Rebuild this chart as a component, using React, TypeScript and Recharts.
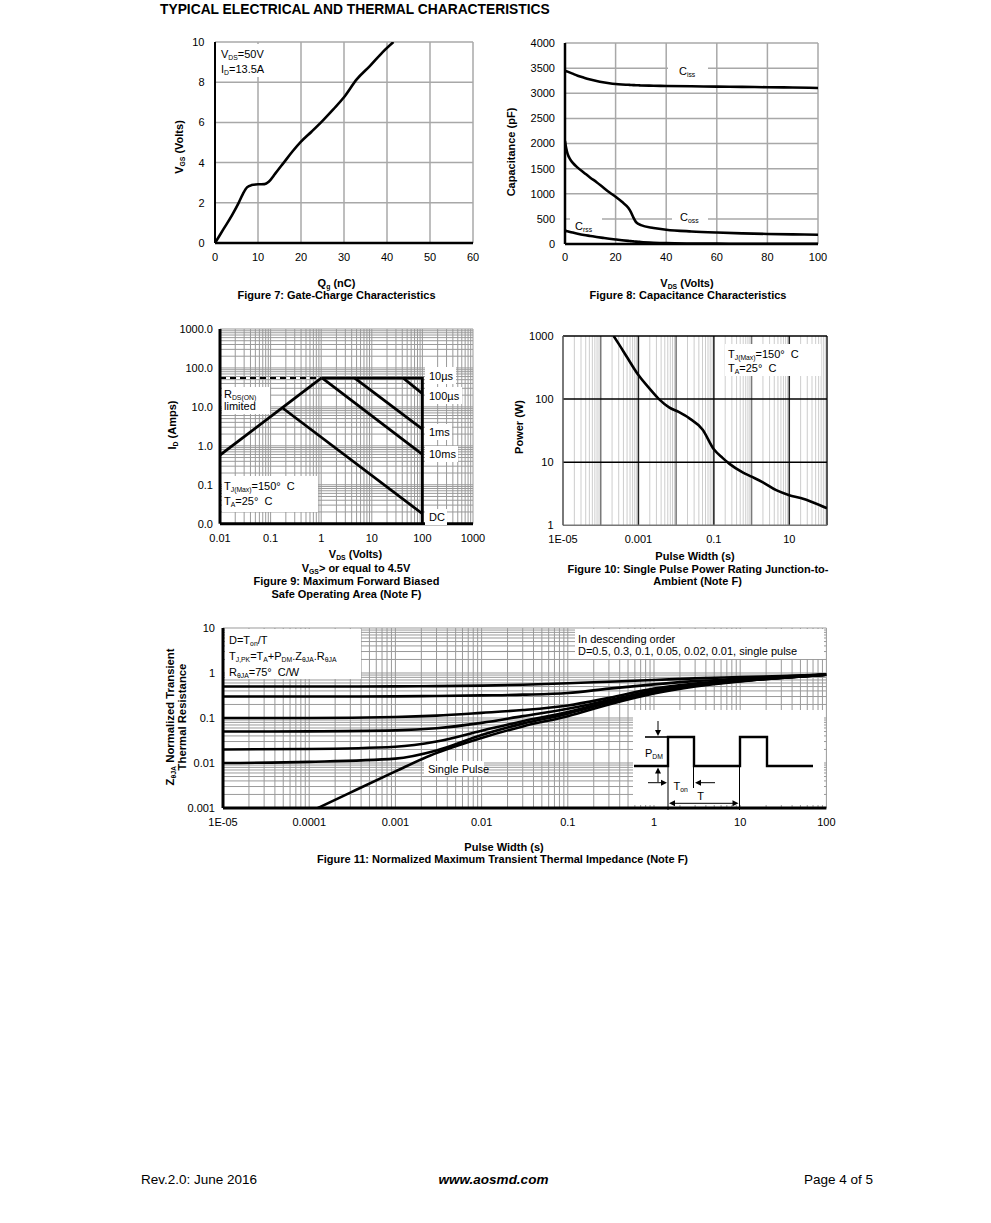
import React from 'react';
import { LineChart, Line, XAxis, YAxis, CartesianGrid, ReferenceLine } from 'recharts';

const FONT = "'Liberation Sans', Arial, Helvetica, sans-serif";

// ---------------- Figure 7: Gate charge ----------------
const fig7Qg = [0, 2, 4, 5.5, 6.5, 7.5, 8.5, 10, 11.5, 12.5, 14, 16, 18, 20, 22.5, 25, 27.5, 30, 33, 36, 39, 41.5];
const fig7Vgs = [0, 0.7, 1.4, 2.0, 2.45, 2.78, 2.88, 2.92, 2.93, 3.05, 3.45, 4.0, 4.55, 5.04, 5.55, 6.08, 6.65, 7.25, 8.15, 8.8, 9.5, 10.0];
const fig7XTicks = [0, 10, 20, 30, 40, 50, 60];
const fig7YTicks = [0, 2, 4, 6, 8, 10];

// ---------------- Figure 8: Capacitance ----------------
const fig8Vds = [0, 0.5, 1, 2, 3, 5, 7.5, 10, 12.5, 15, 17.5, 20, 22.5, 25, 26, 27, 28, 29, 30, 35, 40, 50, 60, 70, 80, 90, 100];
const fig8Ciss = [3450, 3440, 3430, 3410, 3390, 3350, 3310, 3275, 3245, 3220, 3200, 3185, 3175, 3168, 3165, 3162, 3160, 3158, 3155, 3150, 3145, 3138, 3132, 3126, 3120, 3114, 3105];
const fig8Coss = [2050, 1900, 1800, 1690, 1620, 1520, 1420, 1320, 1230, 1130, 1030, 940, 840, 720, 640, 530, 440, 400, 375, 320, 285, 250, 228, 212, 200, 192, 185];
const fig8Crss = [270, 260, 252, 240, 228, 205, 180, 160, 140, 122, 105, 90, 76, 63, 58, 53, 48, 44, 40, 26, 17, 10, 7, 5, 4, 3, 3];
const fig8XTicks = [0, 20, 40, 60, 80, 100];
const fig8YTicks = [0, 500, 1000, 1500, 2000, 2500, 3000, 3500, 4000];

// ---------------- Figure 9: SOA ----------------
const fig9XMajor = [0.01, 0.1, 1, 10, 100, 1000];
const fig9XLabels = ['0.01', '0.1', '1', '10', '100', '1000'];
const fig9YMajor = [0.01, 0.1, 1, 10, 100, 1000];
const fig9YLabels = ['0.0', '0.1', '1.0', '10.0', '100.0', '1000.0'];
const soaRdsV = [0.01, 1];
const soaRdsI = [0.58, 55];
const soaDashV = [0.01, 1];
const soaDashI = [55, 55];
const soa10usV = [1, 100, 100];
const soa10usI = [55, 55, 0.01];
const soa100usV = [42, 100];
const soa100usI = [55, 22];
const soa1msV = [4.6, 100];
const soa1msI = [55, 2.7];
const soa10msV = [1.05, 100];
const soa10msI = [55, 0.6];
const soaDcV = [0.17, 100];
const soaDcI = [9.5, 0.018];

// ---------------- Figure 10: Single pulse power ----------------
const fig10T = [2.2e-4, 3e-4, 5e-4, 1e-3, 2e-3, 3.5e-3, 6.5e-3, 0.012, 0.022, 0.05, 0.1, 0.17, 0.26, 0.58, 1, 2, 4.5, 10, 20, 43, 100];
const fig10P = [1000, 750, 460, 240, 145, 100, 74, 62, 50, 33, 16, 11.7, 9.4, 6.9, 5.9, 4.8, 3.6, 3.0, 2.7, 2.3, 1.86];
const fig10XMajor = [1e-5, 1e-3, 0.1, 10];
const fig10XLabels = ['1E-05', '0.001', '0.1', '10'];
const fig10YTicks = [1, 10, 100, 1000];

// ---------------- Figure 11: Transient thermal impedance ----------------
const fig11T = [1e-5, 1e-4, 1e-3, 3e-3, 1e-2, 3e-2, 0.1, 0.3, 1, 3, 10, 30, 100];
const fig11D50 = [0.5, 0.5, 0.505, 0.51, 0.525, 0.55, 0.59, 0.64, 0.7, 0.76, 0.81, 0.86, 0.92];
const fig11D30 = [0.3, 0.3, 0.303, 0.308, 0.318, 0.33, 0.36, 0.45, 0.56, 0.66, 0.74, 0.83, 0.92];
const fig11D10 = [0.1, 0.1, 0.105, 0.113, 0.13, 0.15, 0.19, 0.28, 0.45, 0.58, 0.7, 0.8, 0.92];
const fig11D05 = [0.05, 0.0505, 0.053, 0.059, 0.078, 0.11, 0.16, 0.25, 0.41, 0.55, 0.68, 0.79, 0.92];
const fig11D02 = [0.02, 0.0205, 0.023, 0.03, 0.052, 0.085, 0.135, 0.23, 0.38, 0.53, 0.67, 0.79, 0.92];
const fig11D01 = [0.01, 0.0106, 0.0125, 0.019, 0.042, 0.075, 0.125, 0.22, 0.37, 0.52, 0.66, 0.78, 0.92];
const fig11SpT = [1.26e-4, 3e-4, 1e-3, 2.5e-3, 1e-2, 3e-2, 0.1, 0.3, 1, 3, 10, 30, 100];
const fig11Sp = [0.001, 0.0022, 0.0065, 0.0145, 0.036, 0.065, 0.11, 0.2, 0.35, 0.5, 0.65, 0.78, 0.92];
const fig11XMajor = [1e-5, 1e-4, 1e-3, 1e-2, 0.1, 1, 10, 100];
const fig11XLabels = ['1E-05', '0.0001', '0.001', '0.01', '0.1', '1', '10', '100'];
const fig11YMajor = [0.001, 0.01, 0.1, 1, 10];
const fig11YLabels = ['0.001', '0.01', '0.1', '1', '10'];

// ---------------- helpers ----------------
const YW = 60, MT = 8, MR = 26, XH = 34;
const MARGIN = { top: MT, right: MR, bottom: 0, left: 0 };
const TICK = { fontSize: 11, fill: '#000', fontFamily: FONT };

function geom(x0: number, y0: number, x1: number, y1: number) {
  return { left: x0 - YW, top: y0 - MT, width: x1 - x0 + YW + MR, height: y1 - y0 + MT + XH };
}

function logTicks(lo: number, hi: number) {
  const out: number[] = [];
  for (let e = lo; e < hi; e++) for (let m = 1; m < 10; m++) out.push(m * Math.pow(10, e));
  out.push(Math.pow(10, hi));
  return out;
}

function labelOf(v: number, majors: number[], labels: string[]) {
  for (let i = 0; i < majors.length; i++) {
    if (Math.abs(Math.log10(v) - Math.log10(majors[i])) < 1e-6) return labels[i];
  }
  return '';
}

function pairs(xs: number[], ys: number[], kx: string, ky: string) {
  return xs.map((x, i) => ({ [kx]: x, [ky]: ys[i] }));
}

const Sub = ({ children }: any) => (
  <span style={{ fontSize: '0.62em', position: 'relative', top: '0.32em' }}>{children}</span>
);

function Tx({ x, y, children, size = 11, bold = false, italic = false, align = 'left' }: any) {
  const tx = align === 'center' ? '-50%' : align === 'right' ? '-100%' : '0';
  return (
    <div
      style={{
        position: 'absolute', left: x, top: y, transform: `translate(${tx}, -50%)`,
        fontSize: size, fontWeight: bold ? 700 : 400, fontStyle: italic ? 'italic' : 'normal',
        lineHeight: 1, whiteSpace: 'nowrap', color: '#000',
      }}
    >
      {children}
    </div>
  );
}

function VTx({ x, y, children, size = 11 }: any) {
  return (
    <div
      style={{
        position: 'absolute', left: x, top: y, transform: 'translate(-50%, -50%) rotate(-90deg)',
        fontSize: size, fontWeight: 700, lineHeight: 1, whiteSpace: 'nowrap', color: '#000',
      }}
    >
      {children}
    </div>
  );
}

const Box = ({ x, y, w, h }: any) => (
  <div style={{ position: 'absolute', left: x, top: y, width: w, height: h, background: '#fff' }} />
);

const Wrap = ({ g, children }: any) => (
  <div style={{ position: 'absolute', left: g.left, top: g.top }}>{children}</div>
);

// ---------------- Figures ----------------
function Fig7() {
  const g = geom(215, 42, 473, 243);
  const data = pairs(fig7Qg, fig7Vgs, 'q', 'v');
  return (
    <>
      <Wrap g={g}>
        <LineChart width={g.width} height={g.height} data={data} margin={MARGIN}>
          <CartesianGrid stroke="#a8a8a8" strokeWidth={1.5} />
          <Line dataKey="v" type="monotone" stroke="#000" strokeWidth={2.6} dot={false} isAnimationActive={false} />
          <XAxis dataKey="q" type="number" domain={[0, 60]} ticks={fig7XTicks} interval={0} tickSize={0} tickMargin={10} tick={TICK} axisLine={{ stroke: '#000', strokeWidth: 2.5 }} height={XH} allowDataOverflow />
          <YAxis type="number" domain={[0, 10]} ticks={fig7YTicks} interval={0} tickSize={0} tickMargin={10.5} tick={TICK} axisLine={{ stroke: '#000', strokeWidth: 2 }} width={YW} allowDataOverflow />
        </LineChart>
      </Wrap>
      <Box x={216.5} y={43.5} w={50} h={33} />
      <Tx x={221} y={54}>V<Sub>DS</Sub>=50V</Tx>
      <Tx x={221} y={68.5}>I<Sub>D</Sub>=13.5A</Tx>
      <VTx x={179} y={147}>V<Sub>GS</Sub> (Volts)</VTx>
      <Tx x={336.5} y={282.5} bold align="center">Q<Sub>g</Sub> (nC)</Tx>
      <Tx x={336.5} y={294.5} bold align="center">Figure 7: Gate-Charge Characteristics</Tx>
    </>
  );
}

function Fig8() {
  const g = geom(565, 43, 818, 244);
  const data = fig8Vds.map((v, i) => ({ v, ciss: fig8Ciss[i], coss: fig8Coss[i], crss: fig8Crss[i] }));
  return (
    <>
      <Wrap g={g}>
        <LineChart width={g.width} height={g.height} data={data} margin={MARGIN}>
          <CartesianGrid stroke="#a8a8a8" strokeWidth={1.5} />
          <Line dataKey="ciss" type="monotone" stroke="#000" strokeWidth={2.6} dot={false} isAnimationActive={false} />
          <Line dataKey="coss" type="monotone" stroke="#000" strokeWidth={2.6} dot={false} isAnimationActive={false} />
          <Line dataKey="crss" type="monotone" stroke="#000" strokeWidth={2.6} dot={false} isAnimationActive={false} />
          <XAxis dataKey="v" type="number" domain={[0, 100]} ticks={fig8XTicks} interval={0} tickSize={0} tickMargin={9.5} tick={TICK} axisLine={{ stroke: '#000', strokeWidth: 2.5 }} height={XH} allowDataOverflow />
          <YAxis type="number" domain={[0, 4000]} ticks={fig8YTicks} interval={0} tickSize={0} tickMargin={10} tick={TICK} axisLine={{ stroke: '#000', strokeWidth: 2.5 }} width={YW} allowDataOverflow />
        </LineChart>
      </Wrap>
      <Box x={668} y={62} w={40} h={17} />
      <Tx x={679} y={71}>C<Sub>iss</Sub></Tx>
      <Box x={672} y={209} w={36} h={17} />
      <Tx x={680} y={217}>C<Sub>oss</Sub></Tx>
      <Box x={570} y={217} w={32} h={12} />
      <Tx x={575} y={225.5}>C<Sub>rss</Sub></Tx>
      <VTx x={511} y={152}>Capacitance (pF)</VTx>
      <Tx x={687} y={282.5} bold align="center">V<Sub>DS</Sub> (Volts)</Tx>
      <Tx x={688} y={294.5} bold align="center">Figure 8: Capacitance Characteristics</Tx>
    </>
  );
}

function Fig9() {
  const g = geom(220, 329.3, 473, 524);
  const xt = logTicks(-2, 3);
  const yt = logTicks(-2, 3);
  const L = (xs: number[], ys: number[], k: string, dash?: string) => (
    <Line key={k} data={pairs(xs, ys, 'v', 'i')} dataKey="i" type="linear" stroke="#000" strokeWidth={dash ? 2 : 2.8} strokeDasharray={dash} dot={false} isAnimationActive={false} />
  );
  return (
    <>
      <Wrap g={g}>
        <LineChart width={g.width} height={g.height} margin={MARGIN}>
          <CartesianGrid stroke="#9a9a9a" strokeWidth={1} />
          {L(soaDashV, soaDashI, 'dash', '6 4')}
          {L(soaRdsV, soaRdsI, 'rds')}
          {L(soa10usV, soa10usI, '10us')}
          {L(soa100usV, soa100usI, '100us')}
          {L(soa1msV, soa1msI, '1ms')}
          {L(soa10msV, soa10msI, '10ms')}
          {L(soaDcV, soaDcI, 'dc')}
          <XAxis dataKey="v" type="number" scale="log" domain={[0.01, 1000]} ticks={xt} interval={0} tickSize={0} tickMargin={11} tick={TICK} tickFormatter={(v: number) => labelOf(v, fig9XMajor, fig9XLabels)} axisLine={{ stroke: '#000', strokeWidth: 3 }} height={XH} allowDataOverflow />
          <YAxis type="number" scale="log" domain={[0.01, 1000]} ticks={yt} interval={0} tickSize={0} tickMargin={7} tick={TICK} tickFormatter={(v: number) => labelOf(v, fig9YMajor, fig9YLabels)} axisLine={{ stroke: '#000', strokeWidth: 3 }} width={YW} allowDataOverflow />
        </LineChart>
      </Wrap>
      <Box x={425} y={367} w={31} h={17} />
      <Tx x={429} y={376}>10µs</Tx>
      <Box x={425} y={387} w={37} h={17} />
      <Tx x={429} y={395.5}>100µs</Tx>
      <Box x={425} y={424} w={27} h={16} />
      <Tx x={429} y={431.7}>1ms</Tx>
      <Box x={425} y={446} w={33} h={16} />
      <Tx x={429} y={454}>10ms</Tx>
      <Box x={425} y={509} w={22} h={16} />
      <Tx x={429} y={517}>DC</Tx>
      <Box x={221.5} y={387} w={48} h={27} />
      <Tx x={224} y={394}>R<Sub>DS(ON)</Sub></Tx>
      <Tx x={224} y={406}>limited</Tx>
      <Box x={221.5} y={476} w={96} h={36} />
      <Tx x={224} y={485.5}>T<Sub>J(Max)</Sub>=150°&nbsp; C</Tx>
      <Tx x={224} y={501}>T<Sub>A</Sub>=25°&nbsp; C</Tx>
      <VTx x={172} y={425}>I<Sub>D</Sub> (Amps)</VTx>
      <Tx x={355.5} y={553.5} bold align="center">V<Sub>DS</Sub> (Volts)</Tx>
      <Tx x={356} y={568} bold align="center">V<Sub>GS</Sub>&gt; or equal to 4.5V</Tx>
      <Tx x={346.5} y={580.5} bold align="center">Figure 9: Maximum Forward Biased</Tx>
      <Tx x={346.5} y={594} bold align="center">Safe Operating Area (Note F)</Tx>
    </>
  );
}

function Fig10() {
  const g = geom(562.7, 335.7, 826.7, 525);
  const xt = logTicks(-5, 2);
  const data = pairs(fig10T, fig10P, 't', 'p');
  return (
    <>
      <Wrap g={g}>
        <LineChart width={g.width} height={g.height} data={data} margin={MARGIN}>
          <CartesianGrid stroke="#cdcdcd" strokeWidth={1} horizontal={false} />
          <ReferenceLine x={1e-4} stroke="#7a7a7a" strokeWidth={1.5} />
          <ReferenceLine x={1e-2} stroke="#7a7a7a" strokeWidth={1.5} />
          <ReferenceLine x={1} stroke="#7a7a7a" strokeWidth={1.5} />
          <ReferenceLine x={1e-3} stroke="#222" strokeWidth={1.5} />
          <ReferenceLine x={0.1} stroke="#222" strokeWidth={1.5} />
          <ReferenceLine x={10} stroke="#222" strokeWidth={1.5} />
          <ReferenceLine x={100} stroke="#222" strokeWidth={1.5} />
          <ReferenceLine y={10} stroke="#000" strokeWidth={1.5} />
          <ReferenceLine y={100} stroke="#000" strokeWidth={1.5} />
          <ReferenceLine y={1000} stroke="#000" strokeWidth={1.5} />
          <Line dataKey="p" type="monotone" stroke="#000" strokeWidth={2.6} dot={false} isAnimationActive={false} />
          <XAxis dataKey="t" type="number" scale="log" domain={[1e-5, 100]} ticks={xt} interval={0} tickSize={0} tickMargin={10} tick={TICK} tickFormatter={(v: number) => labelOf(v, fig10XMajor, fig10XLabels)} axisLine={{ stroke: '#777', strokeWidth: 1.5 }} height={XH} allowDataOverflow />
          <YAxis type="number" scale="log" domain={[1, 1000]} ticks={fig10YTicks} interval={0} tickSize={0} tickMargin={9.5} tick={TICK} axisLine={{ stroke: '#555', strokeWidth: 1.5 }} width={YW} allowDataOverflow />
        </LineChart>
      </Wrap>
      <Box x={725} y={344} w={96} h={32} />
      <Tx x={728} y={353.5}>T<Sub>J(Max)</Sub>=150°&nbsp; C</Tx>
      <Tx x={728} y={367.5}>T<Sub>A</Sub>=25°&nbsp; C</Tx>
      <VTx x={519} y={427}>Power (W)</VTx>
      <Tx x={695} y={556} bold align="center">Pulse Width (s)</Tx>
      <Tx x={698} y={568.5} bold align="center">Figure 10: Single Pulse Power Rating Junction-to-</Tx>
      <Tx x={697.5} y={581} bold align="center">Ambient (Note F)</Tx>
    </>
  );
}

function Arrow({ x, y, dir }: any) {
  const s = 3, l = 6;
  let pts = '';
  if (dir === 'down') pts = `${x - s},${y - l} ${x + s},${y - l} ${x},${y}`;
  if (dir === 'up') pts = `${x - s},${y + l} ${x + s},${y + l} ${x},${y}`;
  if (dir === 'right') pts = `${x - l},${y - s} ${x - l},${y + s} ${x},${y}`;
  if (dir === 'left') pts = `${x + l},${y - s} ${x + l},${y + s} ${x},${y}`;
  return <polygon points={pts} fill="#000" />;
}

function Fig11() {
  const g = geom(223.3, 627.7, 826.7, 807.7);
  const xt = logTicks(-5, 2);
  const yt = logTicks(-3, 1);
  const L = (xs: number[], ys: number[], k: string) => (
    <Line key={k} data={pairs(xs, ys, 't', 'z')} dataKey="z" type="monotone" stroke="#000" strokeWidth={2.6} dot={false} isAnimationActive={false} />
  );
  return (
    <>
      <Wrap g={g}>
        <LineChart width={g.width} height={g.height} margin={MARGIN}>
          <CartesianGrid stroke="#9a9a9a" strokeWidth={1} />
          {L(fig11T, fig11D50, 'd50')}
          {L(fig11T, fig11D30, 'd30')}
          {L(fig11T, fig11D10, 'd10')}
          {L(fig11T, fig11D05, 'd05')}
          {L(fig11T, fig11D02, 'd02')}
          {L(fig11T, fig11D01, 'd01')}
          {L(fig11SpT, fig11Sp, 'sp')}
          <XAxis dataKey="t" type="number" scale="log" domain={[1e-5, 100]} ticks={xt} interval={0} tickSize={0} tickMargin={10} tick={TICK} tickFormatter={(v: number) => labelOf(v, fig11XMajor, fig11XLabels)} axisLine={{ stroke: '#000', strokeWidth: 3 }} height={XH} allowDataOverflow />
          <YAxis type="number" scale="log" domain={[0.001, 10]} ticks={yt} interval={0} tickSize={0} tickMargin={8} tick={TICK} tickFormatter={(v: number) => labelOf(v, fig11YMajor, fig11YLabels)} axisLine={{ stroke: '#000', strokeWidth: 3 }} width={YW} allowDataOverflow />
        </LineChart>
      </Wrap>
      <Box x={224.8} y={628.5} w={136} h={50} />
      <Tx x={229} y={640}>D=T<Sub>on</Sub>/T</Tx>
      <Tx x={229} y={656}>T<Sub>J,PK</Sub>=T<Sub>A</Sub>+P<Sub>DM</Sub>.Z<Sub>θJA</Sub>.R<Sub>θJA</Sub></Tx>
      <Tx x={229} y={672}>R<Sub>θJA</Sub>=75°&nbsp; C/W</Tx>
      <Box x={575} y={628.5} w={249} h={30} />
      <Tx x={578} y={639}>In descending order</Tx>
      <Tx x={578} y={651}>D=0.5, 0.3, 0.1, 0.05, 0.02, 0.01, single pulse</Tx>
      <Box x={424} y={761} w={60} h={15} />
      <Tx x={428} y={768.5}>Single Pulse</Tx>
      <svg width={991} height={1223} style={{ position: 'absolute', left: 0, top: 0, pointerEvents: 'none' }}>
        <rect x={633} y={710} width={191} height={95} fill="#fff" />
        <path d="M634,766 H668 V737 H694 V766 H740 V737 H767 V766 H813" fill="none" stroke="#000" strokeWidth={2.4} />
        <line x1={645} y1={737} x2={668} y2={737} stroke="#000" strokeWidth={1.6} />
        <line x1={658} y1={721} x2={658} y2={732} stroke="#000" strokeWidth={1} />
        <Arrow x={658} y={736} dir="down" />
        <line x1={658} y1={782} x2={658} y2={772} stroke="#000" strokeWidth={1} />
        <Arrow x={658} y={767.5} dir="up" />
        <line x1={668} y1={766} x2={668} y2={810} stroke="#000" strokeWidth={1} />
        <line x1={693.5} y1={766} x2={693.5} y2={788} stroke="#000" strokeWidth={1} />
        <line x1={739.5} y1={766} x2={739.5} y2={810} stroke="#000" strokeWidth={1} />
        <line x1={648} y1={782.7} x2={662} y2={782.7} stroke="#000" strokeWidth={1} />
        <Arrow x={667} y={782.7} dir="right" />
        <line x1={700} y1={782.7} x2={715} y2={782.7} stroke="#000" strokeWidth={1} />
        <Arrow x={695} y={782.7} dir="left" />
        <line x1={674} y1={803.3} x2={734} y2={803.3} stroke="#000" strokeWidth={1} />
        <Arrow x={669} y={803.3} dir="left" />
        <Arrow x={738.5} y={803.3} dir="right" />
      </svg>
      <Tx x={645} y={753}>P<Sub>DM</Sub></Tx>
      <Tx x={673.5} y={785.5}>T<Sub>on</Sub></Tx>
      <Tx x={700.5} y={795.5} align="center">T</Tx>
      <VTx x={171} y={717} size={11.3}>Z<Sub>θJA</Sub> Normalized Transient</VTx>
      <VTx x={182.5} y={717} size={11.3}>Thermal Resistance</VTx>
      <Tx x={504} y={847} bold align="center">Pulse Width (s)</Tx>
      <Tx x={502.5} y={859} bold align="center">Figure 11: Normalized Maximum Transient Thermal Impedance (Note F)</Tx>
    </>
  );
}

export default function App() {
  return (
    <div
      style={{
        position: 'absolute', left: 0, top: 0, width: 991, height: 1223, background: '#fff',
        fontFamily: FONT, color: '#000', overflow: 'hidden',
      }}
    >
      <Tx x={160} y={10} size={13.8} bold>TYPICAL ELECTRICAL AND THERMAL CHARACTERISTICS</Tx>
      <Fig7 />
      <Fig8 />
      <Fig9 />
      <Fig10 />
      <Fig11 />
      <Tx x={141} y={1180} size={13.5}>Rev.2.0: June 2016</Tx>
      <Tx x={493.5} y={1180} size={13.5} bold italic align="center">www.aosmd.com</Tx>
      <Tx x={873} y={1180} size={13.5} align="right">Page 4 of 5</Tx>
    </div>
  );
}
